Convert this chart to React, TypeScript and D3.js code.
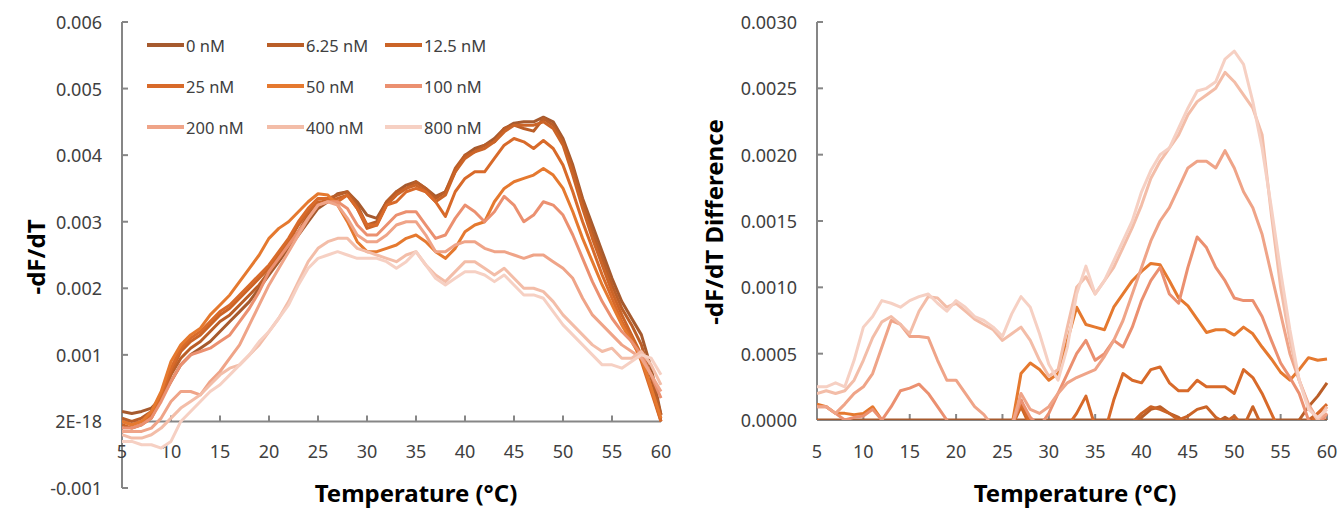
import React from "react";
import * as d3 from "d3";

// temperature grid (°C)
const temps = [
  5, 6, 7, 8, 9, 10, 11, 12, 13, 14, 15, 16, 17, 18, 19, 20, 21, 22, 23, 24,
  25, 26, 27, 28, 29, 30, 31, 32, 33, 34, 35, 36, 37, 38, 39, 40, 41, 42, 43,
  44, 45, 46, 47, 48, 49, 50, 51, 52, 53, 54, 55, 56, 57, 58, 59, 60,
];

const concLabels = [
  "0 nM", "6.25 nM", "12.5 nM", "25 nM", "50 nM", "100 nM", "200 nM", "400 nM", "800 nM",
];
const concColors = [
  "#A65A2E", "#BA5E28", "#CB6427", "#D86A2A", "#E5792F", "#EB9070", "#EFA488", "#F3BDA8", "#F6D0C3",
];

// left panel: -dF/dT, values in units of 0.001
const melt0 = [
  0.15, 0.12, 0.15, 0.2, 0.35, 0.6, 0.85, 1.0, 1.1, 1.2, 1.35, 1.5, 1.65, 1.8, 2.0,
  2.2, 2.4, 2.6, 2.8, 3.0, 3.2, 3.3, 3.42, 3.45, 3.3, 3.1, 3.05, 3.3, 3.45, 3.55,
  3.6, 3.5, 3.38, 3.45, 3.75, 4.0, 4.1, 4.15, 4.25, 4.4, 4.48, 4.5, 4.5, 4.57, 4.5,
  4.25, 3.85, 3.35, 2.95, 2.55, 2.15, 1.8, 1.55, 1.3, 0.8, 0.1,
];
const melt6 = [
  0.05, 0.0, 0.05, 0.15, 0.4, 0.7, 0.95, 1.1, 1.2, 1.35, 1.5, 1.6, 1.75, 1.9, 2.05,
  2.25, 2.45, 2.65, 2.85, 3.1, 3.25, 3.35, 3.4, 3.45, 3.25, 2.95, 3.0, 3.3, 3.45, 3.5,
  3.6, 3.5, 3.35, 3.45, 3.8, 4.0, 4.05, 4.15, 4.2, 4.4, 4.45, 4.4, 4.36, 4.55, 4.45,
  4.2, 3.8, 3.3, 2.85, 2.45, 2.05, 1.7, 1.45, 1.15, 0.65, 0.1,
];
const melt12 = [
  -0.05, -0.1, -0.05, 0.05, 0.35, 0.75, 1.05, 1.2, 1.3, 1.45, 1.6, 1.7, 1.85, 2.0, 2.15,
  2.3, 2.5, 2.7, 2.95, 3.15, 3.3, 3.3, 3.35, 3.4, 3.2, 2.9, 2.95, 3.25, 3.4, 3.5,
  3.55, 3.45, 3.3, 3.4, 3.75, 3.95, 4.05, 4.1, 4.2, 4.35, 4.45, 4.45, 4.45, 4.5, 4.4,
  4.15, 3.7, 3.2, 2.75, 2.35, 1.95, 1.6, 1.3, 1.0, 0.5, 0.0,
];
const melt25 = [
  0.0, -0.05, 0.0, 0.1, 0.4, 0.8, 1.1, 1.25, 1.35, 1.5, 1.65, 1.75, 1.9, 2.05, 2.2,
  2.35, 2.55, 2.75, 3.0, 3.2, 3.35, 3.35, 3.3, 3.4, 3.2, 2.95, 2.95, 3.25, 3.3, 3.45,
  3.5, 3.45, 3.3, 3.08, 3.45, 3.65, 3.75, 3.75, 3.95, 4.15, 4.25, 4.2, 4.1, 4.22, 4.1,
  3.85, 3.45, 3.0, 2.6, 2.2, 1.85, 1.5, 1.25, 0.9, 0.45, 0.0,
];
const melt50 = [
  0.0, -0.05, 0.0, 0.15, 0.45, 0.9, 1.15, 1.3, 1.4, 1.6, 1.75, 1.9, 2.1, 2.3, 2.5,
  2.75, 2.9, 3.0, 3.15, 3.3, 3.42, 3.4, 3.25, 3.0, 2.7, 2.55, 2.55, 2.6, 2.65, 2.75,
  2.8, 2.7, 2.55, 2.45, 2.6, 2.85, 2.95, 3.0, 3.3, 3.5, 3.6, 3.65, 3.7, 3.8, 3.7,
  3.5, 3.15, 2.75, 2.4, 2.05, 1.75, 1.45, 1.2, 0.95, 0.5, 0.05,
];
const melt100 = [
  -0.1, -0.1, -0.05, 0.05, 0.3, 0.6, 0.85, 1.0, 1.05, 1.1, 1.2, 1.3, 1.5, 1.7, 1.95,
  2.25, 2.45, 2.65, 2.85, 3.05, 3.25, 3.3, 3.3, 3.2, 2.95, 2.8, 2.8, 2.95, 3.1, 3.15,
  3.15, 2.95, 2.75, 2.8, 3.05, 3.25, 3.15, 3.0, 3.15, 3.38, 3.25, 3.0, 3.1, 3.3, 3.25,
  3.1, 2.8, 2.45, 2.1, 1.8, 1.55, 1.35, 1.2, 1.0, 0.7, 0.35,
];
const melt200 = [
  -0.15, -0.15, -0.15, -0.1, 0.05, 0.3, 0.45, 0.45, 0.4, 0.6, 0.75, 0.95, 1.15, 1.45, 1.75,
  2.05, 2.3, 2.55, 2.8, 3.05, 3.25, 3.3, 3.25, 3.05, 2.8, 2.7, 2.7, 2.8, 2.95, 3.0,
  3.0, 2.8, 2.55, 2.55, 2.65, 2.7, 2.7, 2.6, 2.55, 2.55, 2.5, 2.45, 2.5, 2.5, 2.4,
  2.3, 2.15, 1.85, 1.6, 1.45, 1.3, 1.15, 1.05, 0.95, 0.7, 0.45,
];
const melt400 = [
  -0.2, -0.25, -0.25, -0.2, -0.1, 0.05, 0.2, 0.3, 0.4, 0.55, 0.7, 0.8, 0.85, 1.0, 1.15,
  1.35, 1.55, 1.8, 2.1, 2.4, 2.6, 2.7, 2.75, 2.75, 2.6, 2.55, 2.5, 2.45, 2.4, 2.5,
  2.55, 2.35, 2.2, 2.1, 2.25, 2.4, 2.4, 2.3, 2.2, 2.3, 2.15, 2.0, 2.0, 1.95, 1.8,
  1.6, 1.45, 1.3, 1.15, 1.05, 1.1, 0.95, 0.95, 1.05, 0.85, 0.55,
];
const melt800 = [
  -0.3, -0.3, -0.35, -0.35, -0.4, -0.3, 0.0, 0.15, 0.3, 0.45, 0.55, 0.7, 0.85, 1.0, 1.2,
  1.35, 1.55, 1.75, 2.05, 2.3, 2.45, 2.5, 2.55, 2.5, 2.45, 2.45, 2.45, 2.4, 2.3, 2.4,
  2.55, 2.35, 2.15, 2.05, 2.15, 2.25, 2.25, 2.2, 2.1, 2.2, 2.05, 1.9, 1.9, 1.85, 1.65,
  1.45, 1.3, 1.15, 1.0, 0.85, 0.85, 0.8, 0.9, 1.0, 0.95, 0.7,
];

// right panel: -dF/dT difference, units of 0.001 (negatives fall below the plot)
const diff0 = [
  0, 0, 0, 0, 0, 0, 0, 0, 0, 0, 0, 0, 0, 0, 0, 0, 0, 0, 0, 0, 0, 0, 0, 0, 0, 0, 0, 0,
  0, 0, 0, 0, 0, 0, 0, 0, 0, 0, 0, 0, 0, 0, 0, 0, 0, 0, 0, 0, 0, 0, 0, 0, 0, 0, 0, 0,
];
const diff6 = [
  -0.05, -0.05, -0.05, -0.05, -0.05, -0.1, -0.1, -0.1, -0.1, -0.1, -0.1, -0.1, -0.1, -0.1, -0.1,
  -0.1, -0.1, -0.1, -0.1, -0.1, -0.1, -0.05, 0.15, -0.05, -0.1, -0.1, -0.1, -0.1, -0.1, -0.1,
  -0.1, -0.1, -0.1, -0.05, -0.02, 0.02, 0.08, 0.1, 0.05, 0.02, -0.05, -0.05, -0.05, -0.02, 0.02,
  -0.02, -0.05, -0.05, -0.05, -0.05, -0.05, -0.05, 0.0, 0.1, 0.18, 0.28,
];
const diff12 = [
  0.0, -0.05, -0.1, -0.1, -0.1, -0.15, -0.2, -0.2, -0.2, -0.2, -0.2, -0.2, -0.2, -0.2, -0.2,
  -0.2, -0.2, -0.2, -0.15, -0.15, -0.1, -0.05, 0.1, -0.05, -0.1, -0.1, -0.1, -0.1, -0.1, -0.1,
  -0.1, -0.1, -0.1, -0.05, -0.02, 0.05, 0.1, 0.08, 0.05, 0.0, 0.03, 0.08, 0.1, 0.02, -0.02,
  0.03, -0.05, 0.1, -0.05, -0.1, -0.1, -0.1, -0.05, 0.0, 0.05, 0.1,
];
const diff25 = [
  0.0, -0.05, -0.05, -0.1, -0.1, -0.1, -0.05, -0.1, -0.2, -0.3, -0.3, -0.3, -0.3, -0.3, -0.3,
  -0.3, -0.3, -0.3, -0.2, -0.2, -0.1, -0.05, 0.12, -0.02, -0.1, -0.1, -0.1, -0.05, 0.05, 0.18,
  -0.05, -0.1, 0.15, 0.35, 0.3, 0.28, 0.38, 0.4, 0.28, 0.22, 0.22, 0.3, 0.25, 0.25, 0.25,
  0.2, 0.38, 0.32, 0.2, 0.05, -0.1, -0.2, -0.15, -0.05, 0.05, 0.12,
];
const diff50 = [
  0.12, 0.1, 0.05, 0.05, 0.04, 0.05, 0.1, 0.0, -0.1, -0.2, -0.2, -0.3, -0.3, -0.3, -0.3,
  -0.4, -0.4, -0.3, -0.3, -0.2, -0.15, -0.05, 0.35, 0.43, 0.38, 0.3, 0.35, 0.6, 0.85, 0.72,
  0.7, 0.68, 0.85, 0.95, 1.05, 1.12, 1.18, 1.17, 1.05, 0.92, 0.86, 0.76, 0.66, 0.68, 0.68,
  0.64, 0.7, 0.65, 0.55, 0.46, 0.36, 0.3, 0.38, 0.47, 0.45, 0.46,
];
const diff100 = [
  0.1, 0.1, 0.05, 0.0, 0.02, 0.03, 0.08, 0.0, 0.1, 0.22, 0.24, 0.27, 0.2, 0.1, 0.0,
  -0.1, -0.15, -0.2, -0.2, -0.15, -0.1, -0.05, 0.15, 0.02, -0.05, 0.05, 0.2, 0.35, 0.5, 0.6,
  0.45, 0.5, 0.6, 0.55, 0.7, 0.9, 1.05, 1.15, 0.95, 0.88, 1.15, 1.38, 1.3, 1.15, 1.05,
  0.92, 0.9, 0.9, 0.78, 0.6, 0.43, 0.32, 0.2, 0.0, -0.05, 0.05,
];
const diff200 = [
  0.1, 0.1, 0.05, 0.12, 0.2, 0.25, 0.35, 0.55, 0.75, 0.72, 0.63, 0.63, 0.62, 0.45, 0.3,
  0.3, 0.2, 0.1, 0.04, -0.05, -0.1, -0.05, 0.2, 0.08, 0.05, 0.1, 0.2, 0.28, 0.32, 0.35,
  0.38, 0.48, 0.6, 0.75, 0.95, 1.15, 1.35, 1.5, 1.6, 1.75, 1.9, 1.95, 1.95, 1.9, 2.03,
  1.9, 1.72, 1.6, 1.4, 1.1, 0.8, 0.5, 0.3, 0.12, 0.0, 0.05,
];
const diff400 = [
  0.2, 0.22, 0.2, 0.22, 0.3, 0.45, 0.62, 0.74, 0.78, 0.72, 0.65, 0.82, 0.93, 0.92, 0.85,
  0.88, 0.82, 0.76, 0.72, 0.68, 0.6, 0.65, 0.7, 0.6, 0.45, 0.33, 0.38, 0.7, 1.0, 1.08,
  0.95, 1.05, 1.15, 1.3, 1.45, 1.62, 1.82, 1.95, 2.05, 2.15, 2.3, 2.4, 2.45, 2.5, 2.62,
  2.55, 2.45, 2.35, 2.15, 1.55, 1.0, 0.6, 0.3, 0.1, 0.0, 0.1,
];
const diff800 = [
  0.25, 0.25, 0.28, 0.25, 0.45, 0.7, 0.78, 0.9, 0.88, 0.85, 0.9, 0.93, 0.95, 0.88, 0.82,
  0.9, 0.85, 0.78, 0.75, 0.7, 0.63, 0.8, 0.93, 0.85, 0.65, 0.42, 0.3, 0.55, 0.95, 1.16,
  0.95, 1.05, 1.2, 1.35, 1.5, 1.72, 1.88, 2.0, 2.05, 2.2, 2.35, 2.48, 2.5, 2.55, 2.72,
  2.78, 2.68, 2.4, 2.05, 1.6, 1.12, 0.68, 0.3, 0.08, 0.02, 0.08,
];

const meltSeries = [melt0, melt6, melt12, melt25, melt50, melt100, melt200, melt400, melt800];
const diffSeries = [diff0, diff6, diff12, diff25, diff50, diff100, diff200, diff400, diff800];

const xTickValues = [5, 10, 15, 20, 25, 30, 35, 40, 45, 50, 55, 60];
const meltTickValues = [-1, 0, 1, 2, 3, 4, 5, 6];
const meltTickLabels = ["-0.001", "2E-18", "0.001", "0.002", "0.003", "0.004", "0.005", "0.006"];
const diffTickValues = [0, 0.5, 1, 1.5, 2, 2.5, 3];
const diffTickLabels = ["0.0000", "0.0005", "0.0010", "0.0015", "0.0020", "0.0025", "0.0030"];

const FONT = "'Noto Sans', 'DejaVu Sans', sans-serif";
const AXIS = "#868686";
const TEXT = "#404040";

function Panel({
  id, xRange, yDomain, yRange, tickValues, tickLabels, series, yTitle, yTitleX, yTitleY, xTitleX,
}) {
  const x = d3.scaleLinear().domain([5, 60]).range(xRange);
  const y = d3.scaleLinear().domain(yDomain).range(yRange);
  const line = d3
    .line()
    .x((d, i) => x(temps[i]))
    .y((d) => y(d));
  const y0 = y(0);
  return (
    <g>
      <defs>
        <clipPath id={id}>
          <rect x={xRange[0]} y={yRange[1] - 2} width={xRange[1] - xRange[0] + 2} height={yRange[0] - yRange[1] + 2} />
        </clipPath>
      </defs>
      {/* axes */}
      <g stroke={AXIS} strokeWidth="2" fill="none">
        <line x1={xRange[0]} y1={yRange[1]} x2={xRange[0]} y2={yRange[0]} />
        <line x1={xRange[0]} y1={y0} x2={xRange[1]} y2={y0} />
        {tickValues.map((t) => (
          <line key={"yt" + t} x1={xRange[0]} y1={y(t)} x2={xRange[0] + 6} y2={y(t)} />
        ))}
        {xTickValues.map((t) => (
          <line key={"xt" + t} x1={x(t)} y1={y0} x2={x(t)} y2={y0 - 6} />
        ))}
      </g>
      {tickValues.map((t, i) => (
        <text
          key={"yl" + t}
          x={xRange[0] - 20}
          y={y(t)}
          textAnchor="end"
          dominantBaseline="central"
          fontSize="18"
          fontFamily={FONT}
          fill={TEXT}
        >
          {tickLabels[i]}
        </text>
      ))}
      {xTickValues.map((t) => (
        <text
          key={"xl" + t}
          x={x(t)}
          y={451}
          textAnchor="middle"
          dominantBaseline="central"
          fontSize="18"
          fontFamily={FONT}
          fill={TEXT}
        >
          {t}
        </text>
      ))}
      {/* curves */}
      <g clipPath={`url(#${id})`}>
        {series.map((s, i) => (
          <path
            key={i}
            d={line(s)}
            fill="none"
            stroke={concColors[i]}
            strokeWidth="3"
            strokeLinejoin="round"
          />
        ))}
      </g>
      <text
        transform={`translate(${yTitleX},${yTitleY}) rotate(-90)`}
        textAnchor="middle"
        dominantBaseline="central"
        fontSize="24"
        fontWeight="bold"
        fontFamily={FONT}
        fill="#000"
      >
        {yTitle}
      </text>
      <text
        x={xTitleX}
        y={492}
        textAnchor="middle"
        dominantBaseline="central"
        fontSize="24"
        fontWeight="bold"
        fontFamily={FONT}
        fill="#000"
      >
        Temperature (°C)
      </text>
    </g>
  );
}

function Legend() {
  const colX = [147, 267, 385];
  const rowY = [45, 86, 127];
  return (
    <g>
      {concLabels.map((label, i) => {
        const cx = colX[i % 3];
        const cy = rowY[Math.floor(i / 3)];
        return (
          <g key={label}>
            <line x1={cx} y1={cy} x2={cx + 37} y2={cy} stroke={concColors[i]} strokeWidth="4" />
            <text
              x={cx + 39}
              y={cy}
              dominantBaseline="central"
              fontSize="16.5"
              fontFamily={FONT}
              fill={TEXT}
            >
              {label}
            </text>
          </g>
        );
      })}
    </g>
  );
}

export default function App() {
  return (
    <svg
      width={1343}
      height={508}
      style={{ position: "absolute", left: 0, top: 0, background: "#fff" }}
    >
      <rect width={1343} height={508} fill="#fff" />
      <Panel
        id="clipMelt"
        xRange={[122, 661]}
        yDomain={[-1, 6]}
        yRange={[488, 22]}
        tickValues={meltTickValues}
        tickLabels={meltTickLabels}
        series={meltSeries}
        yTitle="-dF/dT"
        yTitleX={35}
        yTitleY={257}
        xTitleX={416}
      />
      <Legend />
      <Panel
        id="clipDiff"
        xRange={[817, 1327]}
        yDomain={[0, 3]}
        yRange={[420, 22]}
        tickValues={diffTickValues}
        tickLabels={diffTickLabels}
        series={diffSeries}
        yTitle="-dF/dT Difference"
        yTitleX={713}
        yTitleY={222}
        xTitleX={1075}
      />
    </svg>
  );
}
